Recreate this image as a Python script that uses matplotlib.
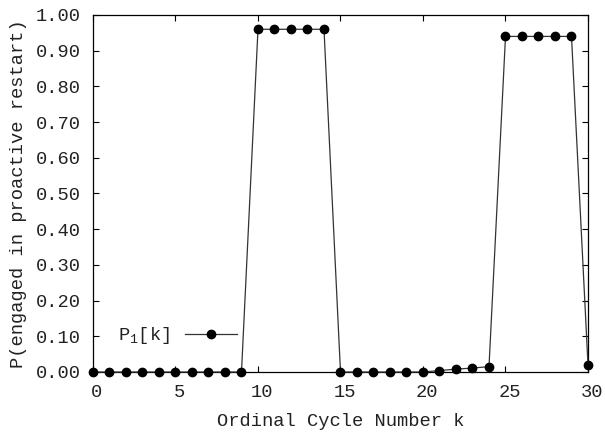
import numpy as np
import matplotlib.pyplot as plt
import matplotlib.transforms as mtransforms

# donnees
k = list(range(31))
p1 = [0.0, 0.0, 0.0, 0.0, 0.0, 0.0, 0.0, 0.0, 0.0, 0.0,
      0.96, 0.96, 0.96, 0.96, 0.96,
      0.0, 0.0, 0.0, 0.0, 0.0, 0.0,
      0.004, 0.008, 0.011, 0.015,
      0.94, 0.94, 0.94, 0.94, 0.94,
      0.02]
xticks = [0, 5, 10, 15, 20, 25, 30]
yticks = [i / 10 for i in range(11)]

plt.rcParams['font.family'] = ['Liberation Mono', 'DejaVu Sans Mono']
plt.rcParams['mathtext.fontset'] = 'custom'
plt.rcParams['mathtext.rm'] = 'Liberation Mono'
plt.rcParams['mathtext.it'] = 'Liberation Mono'
plt.rcParams['text.color'] = '#222222'
plt.rcParams['xtick.labelcolor'] = '#222222'
plt.rcParams['ytick.labelcolor'] = '#222222'
plt.rcParams['axes.labelcolor'] = '#222222'

fig = plt.figure(figsize=(6.05, 4.32), dpi=100)
ax = fig.add_axes([0.1537, 0.1389, 0.8182, 0.8264])

ax.plot(k, p1, color='#333333', linewidth=0.9, marker='o', markersize=6,
        markerfacecolor='black', markeredgecolor='black', label='P$_1$[k]',
        clip_on=False, zorder=3)

ax.set_xlim(0, 30)
ax.set_ylim(0, 1)
ax.set_xticks(xticks)
ax.set_yticks(yticks)
ax.set_yticklabels(['%.2f' % v for v in yticks])
ax.tick_params(direction='in', length=4, width=0.8, top=True, right=True,
               labelsize=13.5, pad=9)

# decalage des etiquettes de l'axe x
offset = mtransforms.ScaledTranslation(4 / 100, 0, fig.dpi_scale_trans)
for lab in ax.get_xticklabels():
    lab.set_transform(lab.get_transform() + offset)

for s in ax.spines.values():
    s.set_linewidth(0.9)

ax.set_xlabel('Ordinal Cycle Number k', fontsize=13.5, labelpad=8)
ax.set_ylabel('P(engaged in proactive restart)', fontsize=13.5, labelpad=6)

ax.legend(loc='center left', bbox_to_anchor=(0.05, 0.101), frameon=False,
          markerfirst=False, handlelength=2.8, handletextpad=0.8,
          borderpad=0, borderaxespad=0, fontsize=13.5)

plt.savefig('out.png', dpi=100)
